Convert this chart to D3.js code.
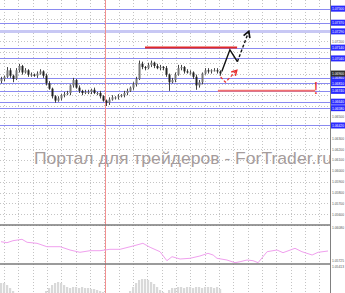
<!DOCTYPE html>
<html><head><meta charset="utf-8">
<script src="https://cdn.jsdelivr.net/npm/d3@7"></script>
<style>html,body{margin:0;padding:0;background:#fff;overflow:hidden}svg{display:block}</style>
</head><body><svg id="c" width="345" height="293"></svg>
<script>
// ---- data ----
const firstOpen = 1.0683;
const closes = [
1.0685,1.0687,1.0693,1.0688,1.0685,1.0693,1.0697,1.0691,1.0693,1.0689,
1.0689,1.0688,1.0690,1.0692,1.0688,1.0681,1.0676,1.0669,1.0665,1.0667,
1.0670,1.0671,1.0672,1.0679,1.0684,1.0677,1.0674,1.0672,1.0673,1.0673,
1.0675,1.0672,1.0672,1.0669,1.0665,1.0663,1.0666,1.0668,1.0668,1.0669,
1.0670,1.0672,1.0674,1.0677,1.0680,1.0685,1.0699,1.0696,1.0695,1.0698,
1.0700,1.0697,1.0695,1.0696,1.0695,1.0689,1.0682,1.0684,1.0689,1.0695,
1.0696,1.0692,1.0691,1.0691,1.0687,1.0679,1.0682,1.0690,1.0693,1.0692,
1.0693,1.0693,1.0692,1.0690];
const wickUp = [
2,1,3,2,1,2,2,1,2,1, 2,1,2,2,1,2,2,1,1,2, 1,2,2,1,2,1,2,1,2,2, 1,2,1,2,1,1,2,2,1,2,
1,2,2,1,2,2,3,2,1,2, 2,1,2,2,1,2,1,2,2,3, 2,1,2,2,1,2,2,1,2,2, 1,2,2,1];
const wickDn = [
2,2,1,2,3,1,2,2,1,2, 2,1,2,1,2,2,1,2,2,1, 2,2,1,2,2,1,2,2,1,2, 2,1,2,2,1,3,2,1,2,2,
1,2,2,1,2,2,1,2,2,1, 2,2,1,2,2,2,8,1,2,1, 2,2,1,2,2,4,2,2,1,2, 2,1,2,2];
const levels = [1.0750,1.0737,1.0729,1.0714,1.0704,1.0686,1.0681,1.0674,1.0664,1.0658,1.0642];
const thickLevel = 1.0729;
const redSegments = [
  {price:1.0714, from:48, to:78.7, color:"#e02828"},
  {price:1.0674, from:72.3, to:104.7, color:"#f07070"}];
const blackSolid = [[73.6,1.0692],[76.3,1.0712],[78.8,1.0701]];
const blackDash = [[78.8,1.0701],[82.6,1.0729]];
const redPath = [[73.2,1.0687],[74.8,1.0682],[78.6,1.0693]];
const markerBar = 34.7;
const alertBar = 105;
const alertPrice = 1.0671;
const indBars = [0,2,4,7,8.7,12,15.3,19.7,23,26.3,29.7,33,36.3,39.7,44,47.3,49.7,53,55.3,57,59.7,63,66.3,69,70.7,72,75.3,78,79.7,82,84,85.7,88.7,92,94,98,100.3,103.7,105.7,109];
const indValues = [21.3,20.3,22.3,23.7,20.7,19.7,16.3,16.3,13,10.7,12.3,12.3,13.7,13.7,17,19.7,15.7,11.3,2.3,6.3,4,4.7,7,9.7,8,4.7,3,0.3,1.3,3,2.3,0.3,11.3,13,10.3,14.7,11.3,8,10.7,12];
const indLabels = ["1.06080","1.05725","1.05413"];
const hist = [
10,10,8,5,2,0,0,0,0,0, 0,0,0,0,0,2,5,8,10,11, 10,8,6,5,6,6,5,6,5,5, 4,4,3,2,1,0,0,0,0,0,
0,0,0,2,6,10,13,14,14,13, 11,9,6,3,1,0,3,5,5,6, 6,5,6,6,5,6,6,5,6,6, 6,5,6,4,0,0,0,0,0,0,
0,0,0,0,0,0,0,0,0,0, 0,0,0,0,0,0,0,0,0,0, 0,0,0,0,0,0,0,0,0,0];
const priceTicks = d3.range(1.0550, 1.07505, 0.001);
const watermark = "Портал для трейдеров - ForTrader.ru";

// ---- scales ----
const svg = d3.select("#c");
const W = 330;
const x = d3.scaleLinear().domain([0,109]).range([1,328]);
const y = d3.scaleLinear().domain([1.0550,1.0758]).range([225,0]);
const yi = d3.scaleLinear().domain([0,37]).range([263,226]);
const yh = d3.scaleLinear().domain([0,29]).range([293,264]);
const fmt = d3.format(".5f");
const FONT = "Liberation Sans, Arial, sans-serif";

// grid
const gv = d3.range(1, 110, 4.777);
svg.append("g").selectAll("line").data(gv).join("line")
  .attr("x1",d=>Math.round(x(d))+0.5).attr("x2",d=>Math.round(x(d))+0.5)
  .attr("y1",0).attr("y2",293).attr("stroke","#c4c4c4").attr("stroke-dasharray","1,2");
svg.append("g").selectAll("line").data(priceTicks).join("line")
  .attr("x1",0).attr("x2",W).attr("y1",d=>Math.round(y(d))+0.5).attr("y2",d=>Math.round(y(d))+0.5)
  .attr("stroke","#c4c4c4").attr("stroke-dasharray","1,2");

// watermark
svg.append("text").attr("x",34).attr("y",163.5).attr("font-family",FONT)
  .attr("font-size",16.2).attr("fill","#a59c9c").attr("textLength",298).attr("lengthAdjust","spacingAndGlyphs")
  .text(watermark);

// histogram
svg.append("g").selectAll("rect").data(hist).join("rect")
  .attr("x",(d,i)=>x(i)-1).attr("width",2.2).attr("y",d=>yh(d)).attr("height",d=>293-yh(d)).attr("fill","#d9d9d9");

// level lines
svg.append("g").selectAll("line").data(levels).join("line")
  .attr("x1",0).attr("x2",W).attr("y1",d=>Math.round(y(d))+0.5).attr("y2",d=>Math.round(y(d))+0.5)
  .attr("stroke",d=>d===thickLevel?"#c8c8f4":"#8a8af0").attr("stroke-width",d=>d===thickLevel?3:1.2);

// red vertical marker
svg.append("line").attr("x1",Math.round(x(markerBar))+0.5).attr("x2",Math.round(x(markerBar))+0.5)
  .attr("y1",0).attr("y2",293).attr("stroke","#f29090").attr("stroke-width",1);

// red segments
svg.append("g").selectAll("line").data(redSegments).join("line")
  .attr("x1",d=>x(d.from)).attr("x2",d=>x(d.to)).attr("y1",d=>y(d.price)).attr("y2",d=>y(d.price))
  .attr("stroke",d=>d.color).attr("stroke-width",2);

// candles
const candles = closes.map((c,i)=>{
  const o = i===0?firstOpen:closes[i-1];
  return {i,o,c,h:Math.max(o,c)+wickUp[i]*0.0001,l:Math.min(o,c)-wickDn[i]*0.0001};
});
const cg = svg.append("g");
cg.selectAll("line").data(candles).join("line")
  .attr("x1",d=>x(d.i)+0.5).attr("x2",d=>x(d.i)+0.5).attr("y1",d=>y(d.h)).attr("y2",d=>y(d.l))
  .attr("stroke","#444").attr("stroke-width",1);
cg.selectAll("rect").data(candles).join("rect")
  .attr("x",d=>x(d.i)-0.5).attr("width",2).attr("y",d=>y(Math.max(d.o,d.c)))
  .attr("height",d=>Math.max(1,Math.abs(y(d.o)-y(d.c)))).attr("fill",d=>d.c>=d.o?"#777":"#222");

// indicator panel
svg.append("path").datum(indBars.map((b,i)=>[b,indValues[i]]))
  .attr("d",d3.line().x(d=>x(d[0])).y(d=>yi(d[1]))).attr("fill","none").attr("stroke","#f0a0ee").attr("stroke-width",1);
svg.append("g").selectAll("line").data([225,264]).join("line")
  .attr("x1",0).attr("x2",W).attr("y1",d=>d).attr("y2",d=>d).attr("stroke","#7a7a7a").attr("stroke-width",1.6);

// arrows
const defs = svg.append("defs");
function mk(id,col){
  defs.append("marker").attr("id",id).attr("viewBox","0 0 10 10").attr("refX",8).attr("refY",5)
   .attr("markerWidth",6).attr("markerHeight",6).attr("orient","auto")
   .append("path").attr("d","M1,1 L8,5 L1,9").attr("fill","none").attr("stroke",col).attr("stroke-width",2);
}
mk("ab","#111"); mk("ar","#e83030");
const ln = d3.line().x(d=>x(d[0])).y(d=>y(d[1]));
svg.append("path").attr("d",ln(blackSolid)).attr("fill","none").attr("stroke","#111").attr("stroke-width",1.4);
svg.append("path").attr("d",ln(blackDash)).attr("fill","none").attr("stroke","#111").attr("stroke-width",1.4)
  .attr("stroke-dasharray","3,2").attr("marker-end","url(#ab)");
svg.append("path").attr("d",ln(redPath)).attr("fill","none").attr("stroke","#e83030").attr("stroke-width",1.2)
  .attr("stroke-dasharray","3,2").attr("marker-end","url(#ar)");

// alert "!"
svg.append("text").attr("x",x(alertBar)).attr("y",y(alertPrice)).attr("text-anchor","middle")
  .attr("font-family",FONT).attr("font-size",16).attr("fill","#e83030").text("!");

// right axis
const last = closes[closes.length-1];
const boxes = levels.concat([last]);
svg.append("rect").attr("x",W).attr("y",0).attr("width",15).attr("height",293).attr("fill","#fff");
svg.append("line").attr("x1",W+0.5).attr("x2",W+0.5).attr("y1",0).attr("y2",293).attr("stroke","#808080");
function label(g, yy, txt, col){
  g.append("text").attr("x",332).attr("y",yy+1.4).attr("font-size",3.8).attr("font-family",FONT)
   .attr("textLength",12).attr("lengthAdjust","spacingAndGlyphs").attr("fill",col).text(txt);
}
const ag = svg.append("g");
priceTicks.filter(p=>y(p)>3 && y(p)<222 && boxes.every(b=>Math.abs(y(b)-y(p))>5.5))
  .forEach(p=>label(ag, y(p), fmt(p), "#555"));
[228,261,267].forEach((yy,i)=>label(ag, yy, indLabels[i], "#555"));
levels.forEach(p=>{
  ag.append("rect").attr("x",331).attr("y",y(p)-3).attr("width",14).attr("height",6).attr("fill","#2a2aff");
  label(ag, y(p), fmt(p), "#fff");
});
ag.append("rect").attr("x",331).attr("y",y(last)-3).attr("width",14).attr("height",6).attr("fill","#303030");
label(ag, y(last), fmt(last), "#fff");
</script></body></html>
